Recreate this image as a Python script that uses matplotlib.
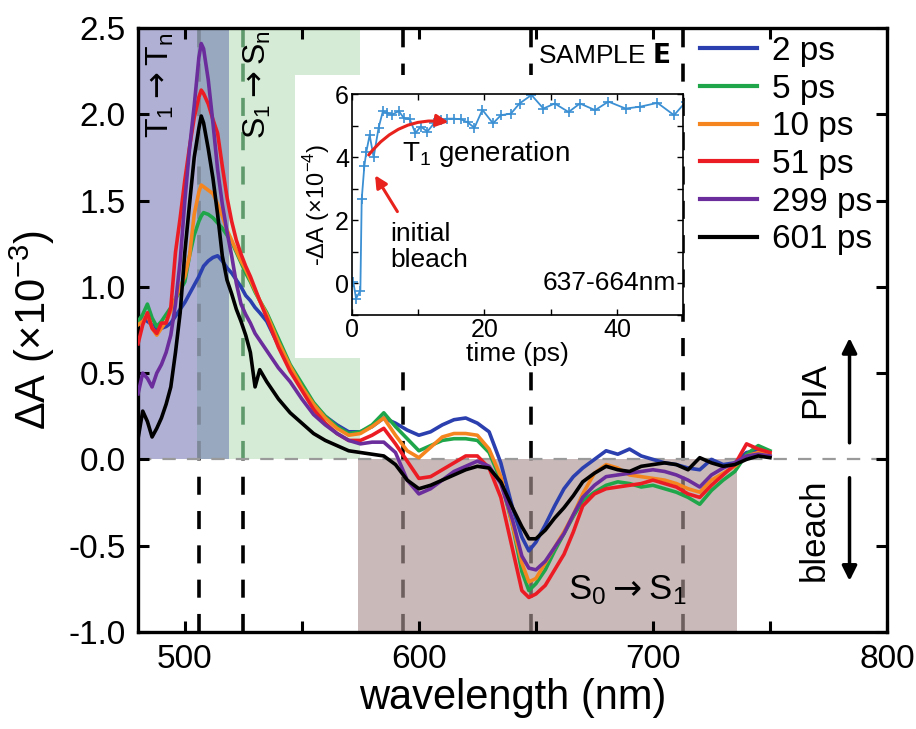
import numpy as np
import matplotlib
matplotlib.use('Agg')
import matplotlib.pyplot as plt
from matplotlib.patches import Rectangle

plt.rcParams['font.family'] = ['Liberation Sans', 'DejaVu Sans']
plt.rcParams['mathtext.fontset'] = 'dejavusans'

# wavelength grid (nm), shared by all spectra
wl = [480, 482, 484, 486, 488, 490, 492, 494, 496, 498,
      500, 502, 504, 506, 507, 508, 510, 512, 514, 516,
      518, 520, 522, 524, 526, 528, 530, 532, 535, 540,
      545, 550, 555, 560, 565, 570, 575, 580, 585, 590,
      595, 600, 605, 610, 615, 620, 625, 630, 635, 640,
      644, 647, 650, 654, 658, 662, 666, 670, 675, 680,
      685, 690, 695, 700, 705, 710, 715, 720, 725, 730,
      735, 740, 745, 750]

dA_2ps = [0.80, 0.82, 0.80, 0.78, 0.75, 0.76, 0.77, 0.79, 0.83, 0.87,
          0.91, 0.96, 1.01, 1.06, 1.09, 1.12, 1.15, 1.17, 1.18, 1.15,
          1.11, 1.08, 1.04, 1.00, 0.95, 0.92, 0.88, 0.85, 0.80, 0.66,
          0.52, 0.42, 0.32, 0.25, 0.20, 0.16, 0.16, 0.19, 0.24, 0.21,
          0.17, 0.14, 0.16, 0.20, 0.23, 0.24, 0.21, 0.16, -0.02, -0.28,
          -0.45, -0.53, -0.48, -0.38, -0.27, -0.17, -0.10, -0.05, 0.00, 0.05,
          0.03, 0.06, 0.02, 0.00, -0.02, -0.03, -0.05, -0.06, 0.00, -0.03,
          -0.02, 0.04, 0.05, 0.02]

dA_5ps = [0.80, 0.84, 0.90, 0.82, 0.77, 0.80, 0.84, 0.88, 0.93, 0.98,
          1.03, 1.18, 1.30, 1.38, 1.41, 1.43, 1.42, 1.40, 1.37, 1.34,
          1.30, 1.26, 1.20, 1.14, 1.08, 1.03, 0.97, 0.92, 0.85, 0.70,
          0.55, 0.44, 0.33, 0.25, 0.19, 0.15, 0.16, 0.20, 0.27, 0.19,
          0.12, 0.05, 0.08, 0.11, 0.12, 0.12, 0.11, 0.04, -0.12, -0.38,
          -0.65, -0.76, -0.72, -0.64, -0.53, -0.43, -0.33, -0.24, -0.19, -0.15,
          -0.13, -0.14, -0.16, -0.15, -0.17, -0.19, -0.22, -0.26, -0.18, -0.12,
          -0.07, 0.03, 0.08, 0.05]

dA_10ps = [0.78, 0.80, 0.84, 0.76, 0.72, 0.76, 0.80, 0.86, 0.93, 1.00,
           1.06, 1.18, 1.42, 1.55, 1.59, 1.58, 1.56, 1.54, 1.48, 1.41,
           1.33, 1.27, 1.21, 1.15, 1.10, 1.04, 0.98, 0.92, 0.84, 0.68,
           0.54, 0.42, 0.32, 0.24, 0.18, 0.14, 0.15, 0.19, 0.24, 0.14,
           0.05, 0.01, 0.07, 0.13, 0.15, 0.15, 0.14, 0.06, -0.10, -0.38,
           -0.60, -0.71, -0.69, -0.60, -0.51, -0.42, -0.32, -0.20, -0.08, -0.03,
           -0.05, -0.09, -0.10, -0.11, -0.12, -0.14, -0.17, -0.19, -0.12, -0.08,
           -0.04, 0.02, 0.04, 0.03]

dA_51ps = [0.67, 0.78, 0.85, 0.76, 0.73, 0.79, 0.79, 0.88, 1.20, 1.40,
           1.62, 1.81, 1.98, 2.10, 2.14, 2.12, 2.06, 1.97, 1.89, 1.70,
           1.52, 1.38, 1.27, 1.19, 1.12, 1.06, 0.99, 0.92, 0.82, 0.65,
           0.51, 0.40, 0.29, 0.21, 0.15, 0.11, 0.11, 0.14, 0.18, 0.09,
           -0.01, -0.11, -0.10, -0.06, -0.02, 0.02, 0.02, -0.05, -0.22, -0.52,
           -0.76, -0.80, -0.78, -0.73, -0.64, -0.55, -0.42, -0.27, -0.20, -0.17,
           -0.16, -0.15, -0.14, -0.12, -0.14, -0.16, -0.20, -0.22, -0.15, -0.09,
           -0.03, 0.09, 0.06, 0.04]

dA_299ps = [0.38, 0.50, 0.47, 0.42, 0.50, 0.55, 0.62, 0.72, 0.90, 1.15,
            1.50, 1.80, 2.05, 2.33, 2.41, 2.38, 2.20, 1.95, 1.68, 1.48,
            1.32, 1.18, 1.02, 0.90, 0.84, 0.79, 0.73, 0.69, 0.63, 0.53,
            0.45, 0.35, 0.26, 0.20, 0.15, 0.11, 0.09, 0.10, 0.10, 0.04,
            -0.12, -0.20, -0.17, -0.12, -0.07, -0.04, -0.01, -0.04, -0.14, -0.35,
            -0.56, -0.63, -0.64, -0.59, -0.51, -0.43, -0.32, -0.22, -0.15, -0.10,
            -0.09, -0.08, -0.07, -0.06, -0.07, -0.09, -0.12, -0.16, -0.09, -0.05,
            -0.02, 0.02, 0.03, 0.02]

dA_601ps = [0.12, 0.28, 0.22, 0.13, 0.18, 0.24, 0.32, 0.42, 0.62, 0.85,
            1.20, 1.48, 1.75, 1.92, 1.99, 1.95, 1.80, 1.63, 1.42, 1.18,
            1.04, 0.96, 0.87, 0.80, 0.72, 0.62, 0.42, 0.52, 0.45, 0.35,
            0.27, 0.21, 0.15, 0.11, 0.08, 0.05, 0.04, 0.03, 0.02, -0.03,
            -0.12, -0.17, -0.15, -0.12, -0.09, -0.06, -0.04, -0.05, -0.13, -0.28,
            -0.39, -0.46, -0.46, -0.41, -0.34, -0.28, -0.21, -0.13, -0.08, -0.04,
            -0.06, -0.07, -0.04, -0.03, -0.02, -0.03, -0.06, 0.01, -0.02, -0.04,
            -0.03, 0.00, 0.02, 0.01]

labels = ['2 ps', '5 ps', '10 ps', '51 ps', '299 ps', '601 ps']
colors = ['#2b3fae', '#1fa64a', '#f5861f', '#ec1c24', '#6b2d9b', '#000000']

# inset kinetics at 637-664 nm
t_ps = [0.25, 0.65, 1.3, 1.5, 1.9, 2.2, 2.7, 3.3, 4.05, 4.7,
        5.3, 6.1, 7.1, 7.85, 8.75, 9.6, 10.4, 11.4, 12.4, 13.4,
        14.4, 15.4, 16.5, 17.5, 18.5, 19.7, 21.3, 22.5, 24.0, 25.3,
        27.1, 28.9, 30.6, 32.7, 34.4, 36.7, 38.7, 41.3, 43.5, 46.1,
        48.6, 50.4]
kin = [0.03, -0.48, -0.23, 2.66, 3.72, 4.17, 4.70, 4.00, 4.93, 5.46,
       5.40, 5.35, 5.46, 5.24, 5.20, 4.76, 4.97, 4.81, 5.07, 5.17,
       5.22, 5.22, 5.20, 5.10, 4.93, 5.50, 5.07, 5.33, 5.38, 5.70,
       5.97, 5.54, 5.70, 5.43, 5.70, 5.49, 5.76, 5.54, 5.60, 5.72,
       5.33, 5.76]

# marker wavelengths and shaded bands
vline_wl = [506, 525, 593, 648, 713]
tt_band = (480, 519)
ss_band = (505, 575)
bleach_band = (574, 736)

fig = plt.figure(figsize=(9.16, 7.29), dpi=100)
ax = fig.add_axes([0.1507, 0.1331, 0.8176, 0.8285])

ax.axvspan(tt_band[0], tt_band[1], ymin=1/3.5, ymax=1, color='#b0b0d4', lw=0, zorder=0)
ax.axvspan(ss_band[0], ss_band[1], ymin=1/3.5, ymax=1, color='#d6ebd6', lw=0, zorder=0)
ax.axvspan(ss_band[0], tt_band[1], ymin=1/3.5, ymax=1, color='#98a8bf', lw=0, zorder=0.5)
ax.axvspan(bleach_band[0], bleach_band[1], ymin=0, ymax=1/3.5, color='#c9b9b9', lw=0, zorder=0)

# dashed verticals: colour above / below zero
top_cols = ['#7d8898', '#5f9a6c', 'black', 'black', 'black']
bot_cols = ['black', 'black', '#6e5f5f', '#6e5f5f', '#6e5f5f']
for w, ct, cb in zip(vline_wl, top_cols, bot_cols):
    ax.plot([w, w], [0, 2.5], color=ct, lw=2.6, dashes=(5, 4.5), zorder=1)
    ax.plot([w, w], [-1.0, 0], color=cb, lw=2.6, dashes=(5, 4.5), zorder=1)

ax.axhline(0, color='#9a9a9a', lw=1.6, dashes=(6, 5), zorder=1.5)

# white background behind the inset
ax.add_patch(Rectangle((547, 0.59), 712 - 547, 2.23 - 0.59, facecolor='white',
                       edgecolor='none', zorder=2))

series = [dA_2ps, dA_5ps, dA_10ps, dA_51ps, dA_299ps, dA_601ps]
for ys, c, lab in zip(series, colors, labels):
    ax.plot(wl, ys, color=c, lw=2.6, label=lab, zorder=3)

ax.set_xlim(480, 800)
ax.set_ylim(-1.0, 2.5)
ax.set_xticks(np.arange(500, 801, 50))
ax.set_xticklabels(['500', '', '600', '', '700', '', '800'])
ax.set_yticks(np.arange(-1.0, 2.51, 0.5))
ax.set_yticklabels(['%.1f' % v for v in np.arange(-1.0, 2.51, 0.5)])
ax.tick_params(direction='in', top=True, right=True, length=8, width=2.2,
               labelsize=24, pad=9)
for s in ax.spines.values():
    s.set_linewidth(2.4)
ax.set_xlabel('wavelength (nm)', fontsize=30, labelpad=2)
ax.set_ylabel(r'ΔA (×10$^{\mathregular{-3}}$)', fontsize=30, labelpad=8)

leg = ax.legend(loc='upper left', bbox_to_anchor=(700 / 916, 1 - 36 / 729),
                bbox_transform=fig.transFigure, frameon=False, fontsize=24,
                handlelength=1.7, handletextpad=0.45, labelspacing=0.2,
                borderpad=0, borderaxespad=0)
for ln in leg.get_lines():
    ln.set_linewidth(3)

# annotations
ax.text(489.5, 2.17, r'$\mathregular{T_1}\rightarrow\mathregular{T_n}$', rotation=90,
        fontsize=23, ha='center', va='center', zorder=4)
ax.text(531, 2.17, r'$\mathregular{S_1}\rightarrow\mathregular{S_n}$', rotation=90,
        fontsize=23, ha='center', va='center', zorder=4)
ax.text(679, 2.34, r'SAMPLE $\mathbf{E}$', fontsize=19, ha='center', va='center', zorder=4)
ax.text(689, -0.76, r'$\mathregular{S_0}\rightarrow\mathregular{S_1}$', fontsize=25,
        ha='center', va='center', zorder=4)
ax.text(769, 0.40, 'PIA', rotation=90, fontsize=25, ha='center', va='center')
ax.text(769, -0.41, 'bleach', rotation=90, fontsize=25, ha='center', va='center')
ax.annotate('', xy=(784, 0.72), xytext=(784, 0.08),
            arrowprops=dict(arrowstyle='-|>', color='black', lw=2.5, mutation_scale=22))
ax.annotate('', xy=(784, -0.72), xytext=(784, -0.09),
            arrowprops=dict(arrowstyle='-|>', color='black', lw=2.5, mutation_scale=22))

# inset
ins = fig.add_axes([0.384, 0.568, 0.362, 0.303])
ins.plot(t_ps, kin, color='#3b8fd3', lw=1.3, marker='+', ms=7, mew=1.2)
ins.set_xlim(0, 50)
ins.set_ylim(-1, 6)
ins.set_xticks([0, 10, 20, 30, 40, 50])
ins.set_xticklabels(['0', '', '20', '', '40', ''])
ins.set_yticks(range(-1, 7))
ins.set_yticklabels(['', '0', '', '2', '', '4', '', '6'])
ins.tick_params(direction='in', top=True, right=True, length=4, width=1,
                labelsize=18, pad=2)
for s in ins.spines.values():
    s.set_linewidth(1.2)
ins.set_xlabel('time (ps)', fontsize=19, labelpad=0)
ins.set_ylabel(r'-ΔA (×10$^{\mathregular{-4}}$)', fontsize=17, labelpad=2)
ins.text(7.6, 4.1, r'$\mathregular{T_1}$ generation', fontsize=20, va='center')
ins.text(5.8, 1.15, 'initial\nbleach', fontsize=19, va='center', linespacing=1.1)
ins.text(48.9, 0.0, '637-664nm', fontsize=19, ha='right', va='center')
ins.annotate('', xy=(15, 5.1), xytext=(2.3, 4.0),
             arrowprops=dict(arrowstyle='-|>', color='#e8221c', lw=2.2,
                             mutation_scale=18, connectionstyle='arc3,rad=-0.3'))
ins.annotate('', xy=(3.3, 3.5), xytext=(7.1, 2.2),
             arrowprops=dict(arrowstyle='-|>', color='#e8221c', lw=2.2, mutation_scale=18))

plt.savefig('out.png', dpi=100)
plt.close()
